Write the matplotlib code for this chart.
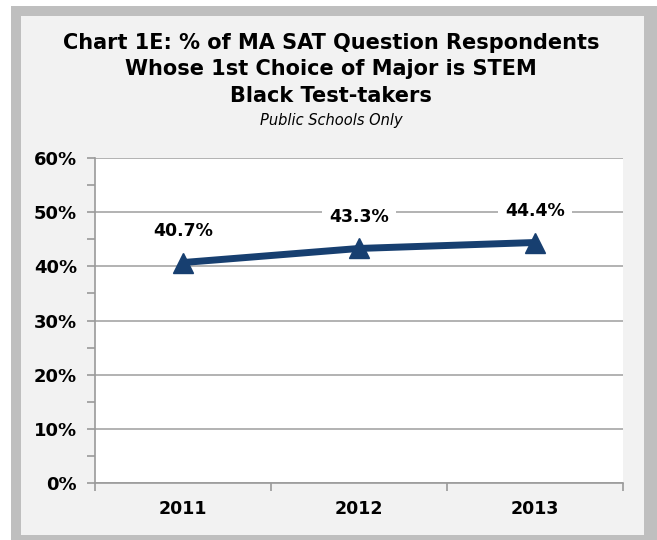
import matplotlib.pyplot as plt
from matplotlib.patches import Rectangle
from matplotlib.ticker import MultipleLocator, FuncFormatter

years = ['2011', '2012', '2013']
pct_stem = [40.7, 43.3, 44.4]
point_labels = ['40.7%', '43.3%', '44.4%']

W, H = 657, 540
plt.rcParams['font.family'] = ['DejaVu Sans']
fig = plt.figure(figsize=(W / 100, H / 100), dpi=100)
fig.patch.set_facecolor('white')


def px(x0, y0, x1, y1):
    return (x0 / W, 1 - y1 / H), (x1 - x0) / W, (y1 - y0) / H


# outer grey frame and light grey chart area
xy, w, h = px(11, 6, 657, 540)
fig.patches.append(Rectangle(xy, w, h, transform=fig.transFigure, facecolor='#BFBFBF',
                             edgecolor='none', zorder=-2))
xy, w, h = px(21, 16, 644, 535)
fig.patches.append(Rectangle(xy, w, h, transform=fig.transFigure, facecolor='#F2F2F2',
                             edgecolor='none', zorder=-1))

ax = fig.add_axes([95 / W, 1 - 483 / H, (623 - 95) / W, (483 - 158) / H])
ax.set_facecolor('white')

x = range(len(years))
ax.plot(x, pct_stem, color='#173F70', lw=5, marker='^', markersize=15,
        solid_capstyle='butt', zorder=3, clip_on=False)

for xi, v, lab in zip(x, pct_stem, point_labels):
    ax.annotate(lab, (xi, v), xytext=(0, 23), textcoords='offset points',
                ha='center', va='center', fontsize=12.5, fontweight='bold',
                bbox=dict(facecolor='white', edgecolor='none', pad=5), zorder=4)

ax.set_xlim(-0.5, 2.5)
ax.set_ylim(0, 60)
ax.yaxis.set_major_locator(MultipleLocator(10))
ax.yaxis.set_minor_locator(MultipleLocator(5))
ax.yaxis.set_major_formatter(FuncFormatter(lambda v, p: f'{v:.0f}%'))
ax.grid(axis='y', color='#A6A6A6', lw=1.2)
ax.set_axisbelow(True)

ax.set_xticks([-0.5, 0.5, 1.5, 2.5])
ax.set_xticklabels([])
ax.set_xticks(list(x), minor=True)
ax.set_xticklabels(years, minor=True)
ax.tick_params(axis='x', which='major', length=6, color='#9A9A9A', width=1.2)
ax.tick_params(axis='x', which='minor', length=0, pad=12, labelsize=12.5)
ax.tick_params(axis='y', which='major', length=6, color='#9A9A9A', width=1.2,
               labelsize=13, pad=7)
ax.tick_params(axis='y', which='minor', length=6, color='#9A9A9A', width=1.2)
for lab in ax.get_xticklabels(minor=True) + ax.get_yticklabels():
    lab.set_fontweight('bold')

for s in ['top', 'right']:
    ax.spines[s].set_visible(False)
for s in ['left', 'bottom']:
    ax.spines[s].set_color('#9A9A9A')
    ax.spines[s].set_linewidth(1.2)

fig.text(331 / W, 1 - 43 / H, 'Chart 1E: % of MA SAT Question Respondents',
         ha='center', va='center', fontsize=15, fontweight='bold')
fig.text(331 / W, 1 - 69 / H, 'Whose 1st Choice of Major is STEM',
         ha='center', va='center', fontsize=15, fontweight='bold')
fig.text(331 / W, 1 - 96 / H, 'Black Test-takers',
         ha='center', va='center', fontsize=15, fontweight='bold')
fig.text(331 / W, 1 - 121 / H, 'Public Schools Only',
         ha='center', va='center', fontsize=10.5, style='italic')

fig.savefig('out.png', dpi=100, facecolor=fig.get_facecolor())
